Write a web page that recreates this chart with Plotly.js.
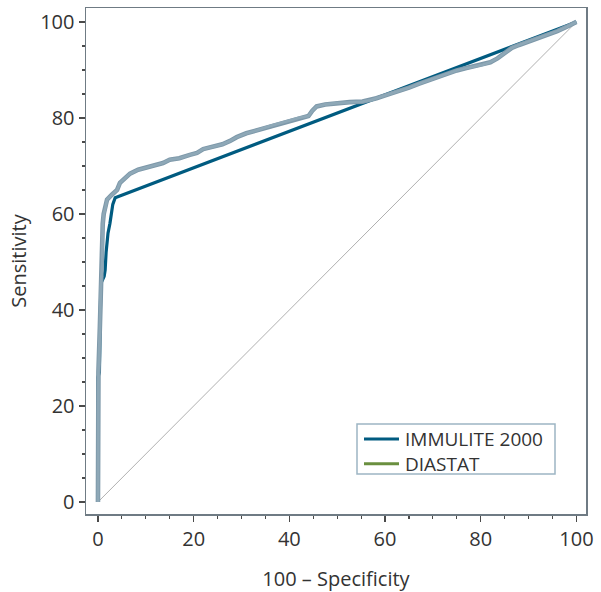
<!DOCTYPE html>
<html>
<head>
<meta charset="utf-8">
<script src="https://cdn.plot.ly/plotly-3.0.1.min.js"></script>
<style>html,body{margin:0;padding:0;background:#fff;}#chart{width:601px;height:592px;}</style>
</head>
<body>
<div id="chart"></div>
<script>
// IMMULITE 2000 ROC curve (100 - specificity, sensitivity)
var immuliteX = [0, 0, 0.3, 0.45, 0.6, 1.3, 1.5, 1.7, 1.9, 2.1, 2.5, 2.9, 3.1, 3.6, 100];
var immuliteY = [0, 26, 27, 38, 45.5, 47, 48.3, 52, 54.6, 56, 58, 60.2, 62, 63.4, 100];

// DIASTAT ROC curve
var diastatX = [0, 0.1, 0.4, 0.6, 0.9, 1.0, 1.2, 1.5, 1.9, 2.9, 4.0, 4.6, 5.2, 6.7, 8.4, 10.0, 11.5, 13.6, 15.0, 17.0, 19.2, 20.7, 22.0, 24.0, 26.0, 27.6, 29.0, 31.0, 33.2, 35.9, 38.6, 40.5, 42.0, 44.0, 44.8, 45.7, 47.5, 49.9, 52.6, 55.3, 57.0, 58.2, 61.0, 63.0, 65.0, 67.0, 69.0, 71.0, 73.0, 75.0, 77.0, 79.0, 80.5, 82.0, 83.5, 85.0, 86.5, 88.0, 90.0, 92.0, 94.0, 96.0, 98.0, 100];
var diastatY = [0, 27, 36.5, 45, 50, 58, 60, 61, 63, 64, 65, 66.5, 67, 68.4, 69.2, 69.6, 70.0, 70.6, 71.3, 71.6, 72.3, 72.7, 73.5, 74.0, 74.5, 75.2, 76.0, 76.8, 77.4, 78.3, 79.1, 79.6, 80.0, 80.4, 81.5, 82.4, 82.8, 83.1, 83.3, 83.4, 83.7, 84.1, 85.0, 85.6, 86.3, 87.1, 87.8, 88.5, 89.3, 89.9, 90.4, 90.8, 91.1, 91.6, 92.4, 93.5, 94.6, 95.2, 95.9, 96.6, 97.3, 98.1, 99.0, 100];

// reference diagonal
var diagX = [0, 100];
var diagY = [0, 100];

var seriesNames = ["IMMULITE 2000", "DIASTAT"];
var legendColors = ["#005b80", "#6a8f3f"];
var xTicks = [0, 20, 40, 60, 80, 100];
var yTicks = [0, 20, 40, 60, 80, 100];

var FONT = "Open Sans, Segoe UI, DejaVu Sans, sans-serif";
var TXT = "#333333";

var traces = [
  {x: diagX, y: diagY, mode: "lines", line: {color: "#b0b0b0", width: 1}, showlegend: false, hoverinfo: "skip"},
  {x: immuliteX, y: immuliteY, mode: "lines", line: {color: "#005b80", width: 3.2}, name: seriesNames[0], showlegend: false},
  {x: diastatX, y: diastatY, mode: "lines", line: {color: "#7d98a9", width: 4.6}, showlegend: false, hoverinfo: "skip"},
  {x: diastatX, y: diastatY, mode: "lines", line: {color: "#8ea8b7", width: 2.8}, name: seriesNames[1], showlegend: false}
];

var axisCommon = {
  showgrid: false, zeroline: false,
  showline: true, linecolor: "#6f7b84", linewidth: 1.5, mirror: true,
  ticks: "outside", ticklen: 6, tickwidth: 1.3, tickcolor: "#4a4a4a",
  tickfont: {family: FONT, size: 20, color: TXT},
  minor: {dtick: 5, ticks: "outside", ticklen: 3, tickwidth: 1.2, tickcolor: "#4a4a4a"}
};

// custom compact legend (box + line samples + one multi-line label)
var lgX0 = 0.542, lgX1 = 0.938, lgY0 = 0.079, lgY1 = 0.178;
var rowY = [0.1482, 0.0994];
var shapes = [{type: "rect", xref: "paper", yref: "paper", x0: lgX0, x1: lgX1, y0: lgY0, y1: lgY1,
               line: {color: "#9db5c4", width: 1.5}, fillcolor: "#ffffff", layer: "above"}];
seriesNames.forEach(function (n, i) {
  shapes.push({type: "line", xref: "paper", yref: "paper", x0: 0.556, x1: 0.626, y0: rowY[i], y1: rowY[i],
               line: {color: legendColors[i], width: 3}, layer: "above"});
});
var annotations = [{xref: "paper", yref: "paper", x: 0.636, y: (rowY[0] + rowY[1]) / 2,
                    xanchor: "left", yanchor: "middle", align: "left", borderpad: 0,
                    text: seriesNames.join("<br>"), showarrow: false,
                    font: {family: FONT, size: 19, color: TXT}}];

var layout = {
  width: 601, height: 592,
  margin: {l: 86, r: 15, t: 8, b: 78},
  paper_bgcolor: "#ffffff", plot_bgcolor: "#ffffff",
  font: {family: FONT, size: 20, color: TXT},
  xaxis: Object.assign({}, axisCommon, {
    range: [-2.5, 102], tickvals: xTicks, ticktext: xTicks.map(String),
    title: {text: "100 \u2013 Specificity", font: {family: FONT, size: 20, color: TXT}, standoff: 22}
  }),
  yaxis: Object.assign({}, axisCommon, {
    range: [-2.5, 102.9], tickvals: yTicks, ticktext: yTicks.map(String),
    title: {text: "Sensitivity", font: {family: FONT, size: 20, color: TXT}, standoff: 8}
  }),
  showlegend: false,
  shapes: shapes,
  annotations: annotations
};

Plotly.newPlot("chart", traces, layout, {displayModeBar: false, staticPlot: true});
</script>
</body>
</html>
